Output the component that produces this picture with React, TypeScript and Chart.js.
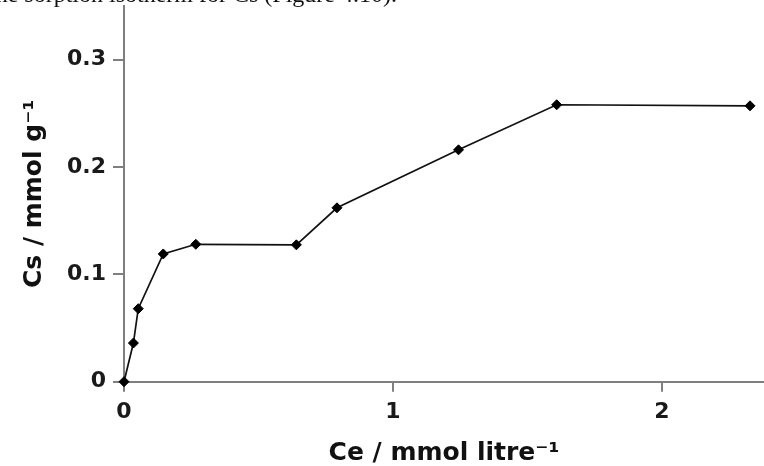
import React, { useEffect, useRef } from "react";
import { Chart, registerables } from "chart.js";

Chart.register(...registerables);

// Data
const ceValues = [0, 0.035, 0.053, 0.146, 0.267, 0.641, 0.792, 1.244, 1.609, 2.328];
const csValues = [0, 0.036, 0.068, 0.119, 0.128, 0.1275, 0.162, 0.216, 0.258, 0.257];
const xTickValues = [0, 1, 2];
const yTickValues = [0, 0.1, 0.2, 0.3];
const xTitle = "Ce / mmol litre⁻¹";
const yTitle = "Cs / mmol g⁻¹";
const captionText = "the sorption isotherm for Cs (Figure 4.10).";

const AXIS_GREY = "#7f7f7f";
const TICK_FONT = { family: "'DejaVu Sans', Arial, sans-serif", size: 22, weight: "bold" as const };
const TITLE_FONT = { family: "'DejaVu Sans', Arial, sans-serif", size: 25, weight: "bold" as const, lineHeight: 1 };

export default function App() {
  const canvasRef = useRef<HTMLCanvasElement | null>(null);

  useEffect(() => {
    if (!canvasRef.current) return;
    const points = ceValues.map((x, i) => ({ x, y: csValues[i] }));
    const chart = new Chart(canvasRef.current, {
      type: "scatter",
      data: {
        datasets: [
          {
            data: points,
            showLine: true,
            borderColor: "#111111",
            borderWidth: 1.7,
            tension: 0,
            pointStyle: "rectRot",
            pointRadius: 5,
            pointBackgroundColor: "#000000",
            pointBorderColor: "#000000",
            pointBorderWidth: 1,
            clip: false,
          } as any,
        ],
      },
      options: {
        animation: false,
        responsive: true,
        maintainAspectRatio: false,
        layout: { autoPadding: false, padding: { top: 6, left: 0, right: 0, bottom: 0 } },
        plugins: { legend: { display: false }, tooltip: { enabled: false } },
        scales: {
          x: {
            type: "linear",
            min: 0,
            max: 2.38,
            afterBuildTicks: (s: any) => {
              s.ticks = xTickValues.map((value) => ({ value }));
            },
            afterFit: (s: any) => {
              s.height = 84.3;
              s.paddingLeft = 0;
              s.paddingRight = 0;
            },
            grid: {
              display: true,
              drawOnChartArea: false,
              drawTicks: true,
              tickLength: 10,
              color: AXIS_GREY,
              lineWidth: 2,
            },
            border: { display: true, color: AXIS_GREY, width: 2 },
            ticks: {
              padding: 7,
              font: TICK_FONT,
              color: "#1a1a1a",
              maxRotation: 0,
              autoSkip: false,
              callback: (v: any) => String(Math.round(Number(v) * 10) / 10),
            },
            title: {
              display: true,
              text: xTitle,
              font: TITLE_FONT,
              color: "#111111",
              padding: { top: 0, bottom: 0 },
            },
          },
          y: {
            type: "linear",
            min: 0,
            max: 0.35,
            afterBuildTicks: (s: any) => {
              s.ticks = yTickValues.map((value) => ({ value }));
            },
            afterFit: (s: any) => {
              s.width = 124;
              s.paddingTop = 0;
              s.paddingBottom = 0;
            },
            grid: {
              display: true,
              drawOnChartArea: false,
              drawTicks: true,
              tickLength: 11,
              color: AXIS_GREY,
              lineWidth: 2,
            },
            border: { display: true, color: AXIS_GREY, width: 2 },
            ticks: {
              padding: 7,
              font: TICK_FONT,
              color: "#1a1a1a",
              autoSkip: false,
              callback: (v: any) => String(Math.round(Number(v) * 10) / 10),
            },
            title: {
              display: true,
              text: yTitle,
              font: TITLE_FONT,
              color: "#111111",
              padding: { top: 22, bottom: 0 },
            },
          },
        },
      },
    });
    return () => chart.destroy();
  }, []);

  return (
    <>
      <div
        style={{
          position: "fixed",
          right: 764 - 397,
          top: -18,
          whiteSpace: "nowrap",
          fontFamily: "'Liberation Serif', 'Times New Roman', serif",
          fontSize: 24,
          lineHeight: "24px",
          color: "#111",
        }}
      >
        {captionText}
      </div>
      <div style={{ position: "fixed", left: 0, top: 0, width: 764, height: 466 }}>
        <canvas ref={canvasRef} />
      </div>
    </>
  );
}
